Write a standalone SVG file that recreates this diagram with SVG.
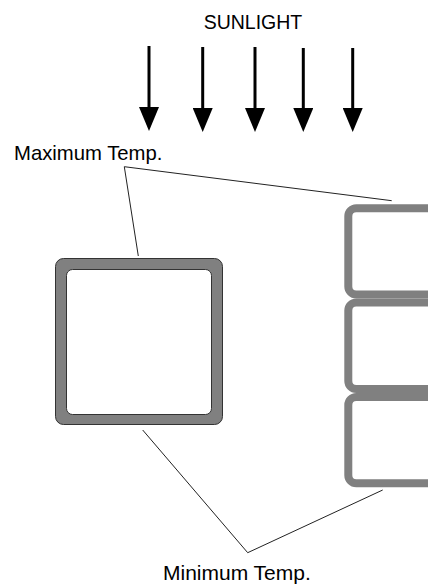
<svg xmlns="http://www.w3.org/2000/svg" width="428" height="585" viewBox="0 0 428 585">
  <defs>
    <marker id="head" viewBox="0 0 24 20" refX="0" refY="10" markerWidth="24" markerHeight="20" markerUnits="userSpaceOnUse" orient="auto">
      <path d="M0,0 L24,10 L0,20 Z" fill="#000"/>
    </marker>
    <style>
      text { font-family: "Liberation Sans", Arial, sans-serif; fill: #000; }
      .ray { stroke: #000; stroke-width: 3; marker-end: url(#head); }
      .lead { stroke: #222; stroke-width: 1; fill: none; }
      .cell { fill: #fff; stroke: #808080; stroke-width: 8; }
    </style>
  </defs>
  <rect width="428" height="585" fill="#fff"/>

  <!-- incoming sunlight -->
  <g id="sunlight">
    <text x="253" y="29" font-size="19.5" text-anchor="middle">SUNLIGHT</text>
    <line class="ray" x1="149" y1="46" x2="149" y2="107"/>
    <line class="ray" x1="202.7" y1="47" x2="202.7" y2="108"/>
    <line class="ray" x1="255" y1="47" x2="255" y2="108"/>
    <line class="ray" x1="303.3" y1="48" x2="303.3" y2="108"/>
    <line class="ray" x1="352.7" y1="48" x2="352.7" y2="108"/>
  </g>

  <!-- single cell section -->
  <g id="single-cell">
    <rect x="55.5" y="258.5" width="167" height="166" rx="8" fill="#808080" stroke="#333" stroke-width="1"/>
    <rect x="66.5" y="269.5" width="145" height="145" rx="6" fill="#fff" stroke="#333" stroke-width="1"/>
  </g>

  <!-- stacked cells, cut at the right edge -->
  <g id="stacked-cells">
    <rect class="cell" x="348.3" y="208.3" width="120" height="86.3" rx="8"/>
    <rect class="cell" x="348.3" y="302.6" width="120" height="86.3" rx="8"/>
    <rect class="cell" x="348.3" y="396.9" width="120" height="86.3" rx="8"/>
  </g>

  <g id="label-max">
    <text x="14" y="159.5" font-size="20.3">Maximum Temp.</text>
  </g>
  <g id="label-min">
    <text x="163" y="580" font-size="21">Minimum Temp.</text>
  </g>

  <!-- leader lines from the labels -->
  <g id="connectors">
    <polyline class="lead" points="138.3,256 124.3,166.7 391.7,200.7"/>
    <polyline class="lead" points="142.7,430 247.7,552.7 382.7,490"/>
  </g>
</svg>
